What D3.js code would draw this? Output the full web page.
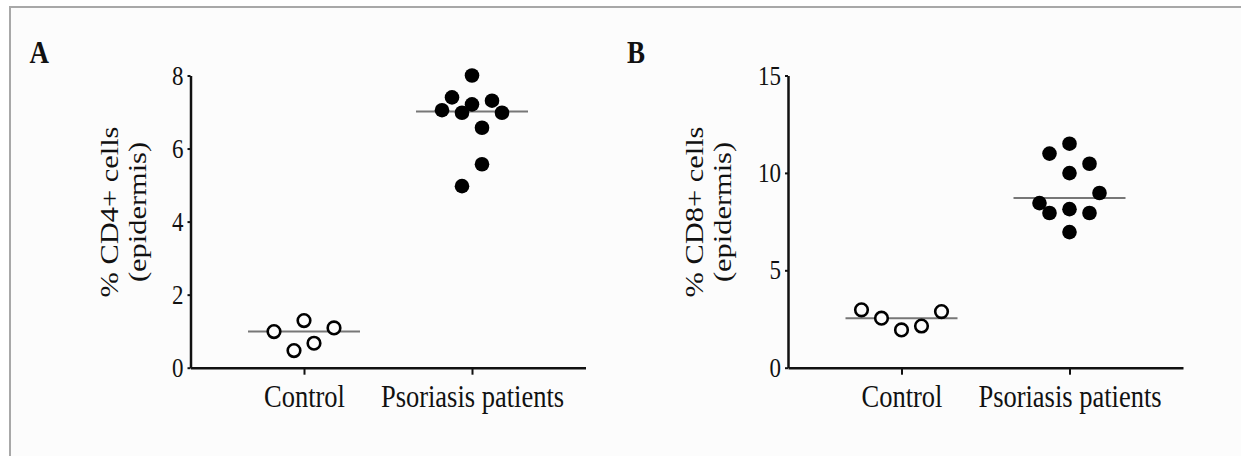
<!DOCTYPE html>
<html>
<head>
<meta charset="utf-8">
<script src="https://cdn.jsdelivr.net/npm/d3@7"></script>
<style>
  html, body { margin: 0; padding: 0; background: #ffffff; }
  svg { display: block; }
  text { font-family: "Liberation Serif", "Times New Roman", serif; fill: #111; }
</style>
</head>
<body>
<svg id="chart" width="1241" height="456"></svg>
<script>
// ---------------- data ----------------
const categories = ["Control", "Psoriasis patients"];

const cd4Control = [0.99, 1.29, 1.09, 0.47, 0.67];
const cd4ControlSlot = [-3, 0, 3, -1, 1];
const cd4Psoriasis = [8.0, 7.40, 7.05, 7.21, 7.31, 6.98, 6.98, 6.57, 5.57, 4.97];
const cd4PsoriasisSlot = [0, -2, -3, 0, 2, -1, 3, 1, 1, -1];
const cd4Ticks = [0, 2, 4, 6, 8];

const cd8Control = [2.97, 2.54, 1.94, 2.14, 2.88];
const cd8ControlSlot = [-4, -2, 0, 2, 4];
const cd8Psoriasis = [11.5, 10.99, 10.47, 9.99, 8.97, 8.45, 7.94, 8.14, 7.94, 6.96];
const cd8PsoriasisSlot = [0, -2, 2, 0, 3, -3, -2, 0, 2, 0];
const cd8Ticks = [0, 5, 10, 15];

const panelLetters = ["A", "B"];
const yTitles = [["% CD4+ cells", "(epidermis)"], ["% CD8+ cells", "(epidermis)"]];

// ---------------- layout ----------------
const STRETCH = 1.17;
const svg = d3.select("#chart");

svg.append("rect")
  .attr("x", 10).attr("y", 7)
  .attr("width", 1260).attr("height", 480)
  .attr("fill", "#fcfcfc")
  .attr("stroke", "#a8a8a8").attr("stroke-width", 2);

const panels = [
  { letter: panelLetters[0], title: yTitles[0], ox: 190.5, titleX: 118, yMax: 8, ticks: cd4Ticks,
    groups: [ { vals: cd4Control, slots: cd4ControlSlot, open: true },
              { vals: cd4Psoriasis, slots: cd4PsoriasisSlot, open: false } ] },
  { letter: panelLetters[1], title: yTitles[1], ox: 788, titleX: 703, yMax: 15, ticks: cd8Ticks,
    groups: [ { vals: cd8Control, slots: cd8ControlSlot, open: true },
              { vals: cd8Psoriasis, slots: cd8PsoriasisSlot, open: false } ] }
];

const plotTop = 75.5, plotBottom = 367.7, axisW = 395, dotSpacing = 10;

panels.forEach(p => {
  const g = svg.append("g").attr("transform", `translate(${p.ox},0)`);
  const x = d3.scalePoint().domain(categories).range([0, axisW]).padding(0.6756);
  const y = d3.scaleLinear().domain([0, p.yMax]).range([plotBottom, plotTop]);

  // panel letter
  svg.append("text")
    .attr("transform", `translate(${p.ox - 161},63) scale(1,${STRETCH})`)
    .attr("font-size", 27).attr("font-weight", "bold")
    .text(p.letter);

  // y axis
  const ya = g.append("g").call(d3.axisLeft(y).tickValues(p.ticks).tickSize(3).tickSizeOuter(0).tickPadding(4));
  ya.select(".domain").attr("stroke", "#111").attr("stroke-width", 2.5);
  ya.selectAll(".tick line").attr("stroke", "#111").attr("stroke-width", 2);
  ya.selectAll(".tick text")
    .attr("font-size", 23).attr("fill", "#222")
    .attr("font-family", "Liberation Serif, Times New Roman, serif")
    .attr("transform", `scale(1,${STRETCH})`);

  // x axis
  const xa = g.append("g").attr("transform", `translate(0,${plotBottom})`)
    .call(d3.axisBottom(x).tickSize(7).tickSizeOuter(0));
  xa.select(".domain").attr("stroke", "#111").attr("stroke-width", 2.5);
  xa.selectAll(".tick line").attr("stroke", "#111").attr("stroke-width", 2);
  xa.selectAll(".tick text")
    .attr("font-size", 26.5).attr("fill", "#222")
    .attr("font-family", "Liberation Serif, Times New Roman, serif")
    .attr("dy", null).attr("y", 39 / STRETCH)
    .attr("transform", `scale(1,${STRETCH})`);

  // y title
  const midY = 212;
  p.title.forEach((t, i) => {
    svg.append("text")
      .attr("transform", `translate(${p.titleX + i * 28},${midY}) scale(1,${STRETCH}) rotate(-90)`)
      .attr("text-anchor", "middle")
      .attr("font-size", 26).attr("fill", "#222")
      .text(t);
  });

  // groups
  p.groups.forEach((grp, gi) => {
    const cx = x(categories[gi]);
    const med = d3.median(grp.vals);
    const half = x.step() / 3;
    g.append("line")
      .attr("x1", cx - half).attr("x2", cx + half)
      .attr("y1", y(med)).attr("y2", y(med))
      .attr("stroke", "#777").attr("stroke-width", 2);
    g.selectAll(null).data(grp.vals).enter().append("circle")
      .attr("cx", (d, i) => cx + grp.slots[i] * dotSpacing)
      .attr("cy", d => y(d))
      .attr("r", grp.open ? 6.3 : 7.3)
      .attr("fill", grp.open ? "#fcfcfc" : "#000")
      .attr("stroke", "#000")
      .attr("stroke-width", grp.open ? 2.6 : 0);
  });
});
</script>
</body>
</html>
